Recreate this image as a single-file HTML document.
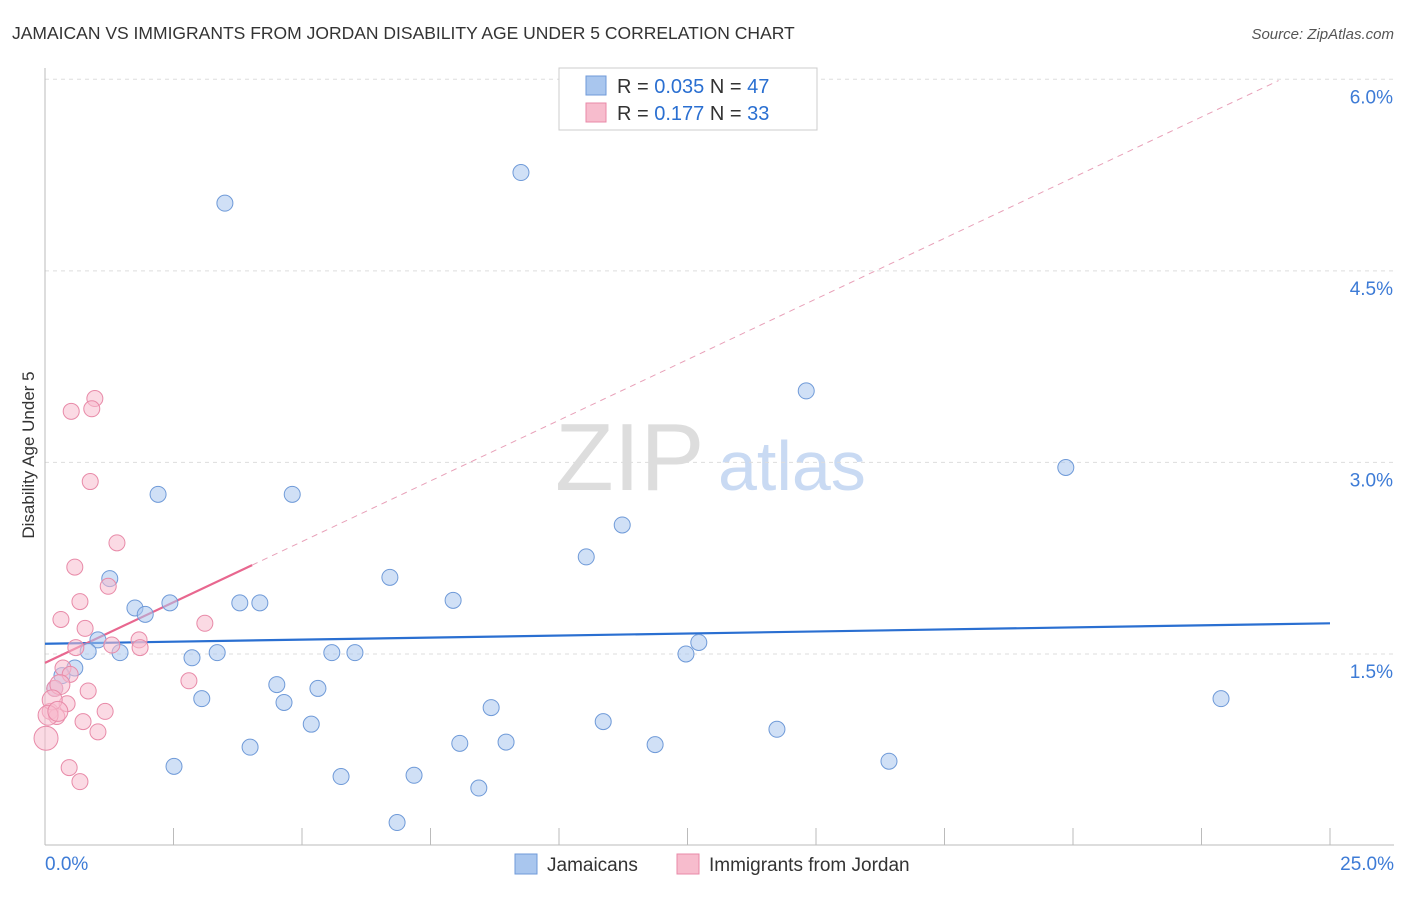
<!DOCTYPE html>
<html><head><meta charset="utf-8"><style>
body{margin:0;background:#fff;font-family:"Liberation Sans",sans-serif;}
svg text{font-family:"Liberation Sans",sans-serif;}
</style></head><body>
<svg id="chart" width="1406" height="892" xmlns="http://www.w3.org/2000/svg">
<text x="12" y="39" font-size="17.5" fill="#333">JAMAICAN VS IMMIGRANTS FROM JORDAN DISABILITY AGE UNDER 5 CORRELATION CHART</text>
<text x="1394" y="39" font-size="15" fill="#555" text-anchor="end" font-style="italic">Source: ZipAtlas.com</text>
<text x="555" y="490" font-size="96" fill="#ddd" font-family="Liberation Serif">ZIP</text>
<text x="718" y="490" font-size="70" fill="#c9daf3">atlas</text>
<g id="grid"></g><g id="axes"></g><g id="lines"></g><g id="pts"></g>
<text transform="translate(34,455) rotate(-90)" font-size="17" fill="#333" text-anchor="middle">Disability Age Under 5</text>
<g>
<rect x="559" y="68" width="258" height="62" fill="#fff" stroke="#ccc"/>
<rect x="586" y="76" width="20" height="19" fill="#a9c6ee" stroke="#6f9ad8"/>
<rect x="586" y="103" width="20" height="19" fill="#f7bccd" stroke="#e88aa8"/>
<text x="617" y="93" font-size="20" fill="#333">R = <tspan fill="#2a6fd1">0.035</tspan>    N = <tspan fill="#2a6fd1">47</tspan></text>
<text x="617" y="120" font-size="20" fill="#333">R =  <tspan fill="#2a6fd1">0.177</tspan>    N = <tspan fill="#2a6fd1">33</tspan></text>
</g>
<g>
<rect x="515" y="854" width="22" height="20" fill="#a9c6ee" stroke="#6f9ad8"/>
<text x="547" y="871" font-size="19" fill="#333">Jamaicans</text>
<rect x="677" y="854" width="22" height="20" fill="#f7bccd" stroke="#e88aa8"/>
<text x="709" y="871" font-size="19" fill="#333">Immigrants from Jordan</text>
</g>
</svg>
<script>
const blueX=[3.50,9.26,14.81,19.86,2.20,4.81,11.23,10.53,6.71,1.26,7.94,1.75,1.95,2.43,3.79,4.18,1.03,0.84,1.46,3.35,2.86,5.58,6.03,12.72,12.47,4.51,5.31,3.05,4.65,22.88,8.68,5.18,10.86,3.99,8.07,8.97,11.87,14.24,2.51,5.76,7.18,8.44,16.42,6.85,0.58,0.33,0.19];
const blueY=[5.03,5.27,3.56,2.96,2.75,2.75,2.51,2.26,2.10,2.09,1.92,1.86,1.81,1.90,1.90,1.90,1.61,1.52,1.51,1.51,1.47,1.51,1.51,1.59,1.50,1.26,1.23,1.15,1.12,1.15,1.08,0.95,0.97,0.77,0.80,0.81,0.79,0.91,0.62,0.54,0.55,0.45,0.66,0.18,1.39,1.33,1.23];
const pinkX=[0.97,0.51,0.91,0.88,1.40,0.58,1.23,0.68,0.31,0.78,3.11,1.83,1.85,0.60,1.30,0.35,0.49,2.80,0.19,0.84,0.43,1.17,0.10,0.23,0.74,1.03,0.02,0.47,0.68,0.29,0.14,0.06,0.25];
const pinkY=[3.50,3.40,3.42,2.85,2.37,2.18,2.03,1.91,1.77,1.70,1.74,1.61,1.55,1.55,1.57,1.39,1.34,1.29,1.23,1.21,1.11,1.05,1.05,1.01,0.97,0.89,0.84,0.61,0.50,1.26,1.14,1.02,1.05];
const pinkR=[8,8,8,8,8,8,8,8,8,8,8,8,8,8,8,8,8,8,8,8,8,8,8,8,8,8,12,8,8,10,10,10,10];
const blueLine=[1.58,1.74];
const pinkLine=[1.43,0.19];
const yTicks=[1.5,3.0,4.5,6.0];
const xTickLabels=["0.0%","25.0%"];
const NS="http://www.w3.org/2000/svg";
const X=v=>45+v*51.4, Y=v=>845.5-v*127.7;
function mk(p,t,a){const e=document.createElementNS(NS,t);for(const k in a)e.setAttribute(k,a[k]);document.getElementById(p).appendChild(e);return e;}
yTicks.forEach(t=>{
 const l=mk('grid','line',{x1:45,x2:1394,y1:Y(t),y2:Y(t),stroke:'#ddd','stroke-dasharray':'4,4'});
 
 
 const tx=mk('grid','text',{x:1393,y:Y(t)+24,'font-size':19,fill:'#3d7bd6','text-anchor':'end'});
 tx.textContent=t.toFixed(1)+'%';
 
 
});
const ax=mk('axes','line',{x1:45,x2:45,y1:68,y2:845,stroke:'#bbb'});


const bx=mk('axes','line',{x1:45,x2:1394,y1:845,y2:845,stroke:'#bbb'});


for(let i=0;i<=10;i++){const t=mk('axes','line',{x1:X(i*2.5),x2:X(i*2.5),y1:828,y2:845,stroke:'#bbb'});
 
 }
[[0,xTickLabels[0],'start',45],[25,xTickLabels[1],'end',1394]].forEach(d=>{
 const t=mk('axes','text',{x:d[3],y:870,'font-size':19,fill:'#3d7bd6','text-anchor':d[2]});t.textContent=d[1];
 
 });
const bl=mk('lines','line',{x1:X(0),y1:Y(blueLine[0]),x2:X(25),y2:Y(blueLine[1]),stroke:'#2a6fd1','stroke-width':2.2});


const pd=mk('lines','line',{x1:X(4.03),y1:Y(pinkLine[0]+pinkLine[1]*4.03),x2:X(24),y2:Y(pinkLine[0]+pinkLine[1]*24),stroke:'#e8a0b8','stroke-width':1,'stroke-dasharray':'6,5'});


const pl=mk('lines','line',{x1:X(0),y1:Y(pinkLine[0]),x2:X(4.03),y2:Y(pinkLine[0]+pinkLine[1]*4.03),stroke:'#e8678f','stroke-width':2.2});


blueX.forEach((v,i)=>{const c=mk('pts','circle',{cx:X(v),cy:Y(blueY[i]),r:8,fill:'rgba(169,198,238,0.55)',stroke:'#6f9ad8','stroke-width':1});
 
 });
pinkX.forEach((v,i)=>{const c=mk('pts','circle',{cx:X(v),cy:Y(pinkY[i]),r:pinkR[i],fill:'rgba(247,188,205,0.55)',stroke:'#e88aa8','stroke-width':1});
 
 });
</script>
</body></html>
